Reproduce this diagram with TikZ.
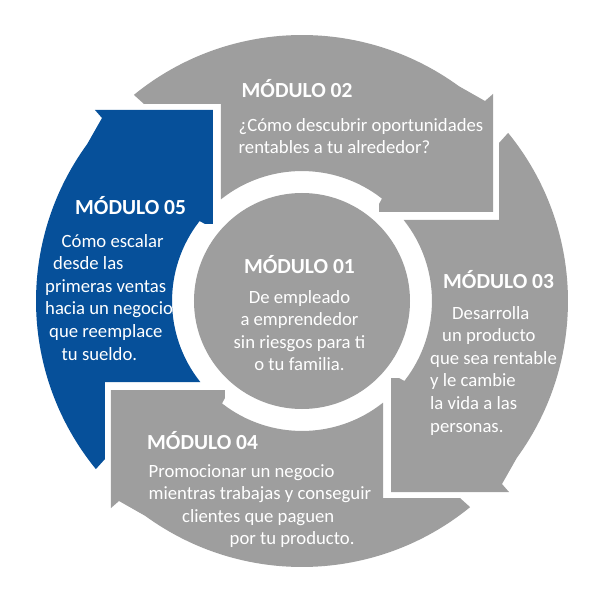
\documentclass[tikz,border=0pt]{standalone}
\usepackage{fontspec}
\setmainfont{Carlito}
\usetikzlibrary{positioning}
\definecolor{modgray}{RGB}{158,158,158}
\definecolor{modblue}{RGB}{6,80,154}

\begin{document}
\begin{tikzpicture}[x=1pt,y=1pt,
  modtitle/.style={font=\fontsize{21.5}{26}\selectfont\bfseries,text=white,inner sep=0pt,anchor=base west},
  modtext/.style={font=\fontsize{18.7}{22.6}\selectfont,text=white,inner sep=0pt,align=left,anchor=base west}]
  \useasboundingbox (-302,-299) rectangle (298,301);

  % Ring segments (02 on top, turned for 03, 04 and 05)
  \foreach \turn/\col in {0/modgray,-90/modgray,-180/modgray,90/modblue}
    \fill[\col,rotate=\turn] (129.2:266) -- (-158,197) -- (-81,197) -- (-81,101.7)
      arc[start angle=128.5,end angle=52,radius=130] -- (77,97) -- (77,89) -- (191,89)
      -- (191,207) -- (183,200) -- (53.9:266) arc[start angle=53.9,end angle=129.2,radius=266] -- cycle;

  % Centre
  \fill[modgray] (0,0) circle (108);

  % Module 01 (text nodes sit on the baseline of their last line)
  \node[modtitle,anchor=base] (t1) at (-2.5,28) {MÓDULO 01};
  \node[modtext,align=center,anchor=base] (b1) at (-2.5,-69.8) {De empleado\\a emprendedor\\sin riesgos para ti\\o tu familia.};

  % Module 02
  \node[modtitle] (t2) at (-60.5,203) {MÓDULO 02};
  \node[modtext] (b2) at (-63.5,147.4) {¿Cómo descubrir oportunidades\\rentables a tu alrededor?};

  % Module 03
  \node[modtitle] (t3) at (141,13) {MÓDULO 03};
  \node[modtext] (b3) at (128,-131) {\hspace*{22pt}Desarrolla\\\hspace*{12pt}un producto\\que sea rentable\\y le cambie\\la vida a las\\personas.};

  % Module 04
  \node[modtitle] (t4) at (-155,-148) {MÓDULO 04};
  \node[modtext] (b4) at (-153.5,-243.8) {Promocionar un negocio\\mientras trabajas y conseguir\\\hspace*{33.5pt}clientes que paguen\\\hspace*{81pt}por tu producto.};

  % Module 05
  \node[modtitle] (t5) at (-227,86) {MÓDULO 05};
  \node[modtext] (b5) at (-257,-59) {\hspace*{16.5pt}Cómo escalar\\\hspace*{8pt}desde las\\primeras ventas\\hacia un negocio\\\hspace*{4pt}que reemplace\\\hspace*{16.5pt}tu sueldo.};
\end{tikzpicture}
\end{document}
